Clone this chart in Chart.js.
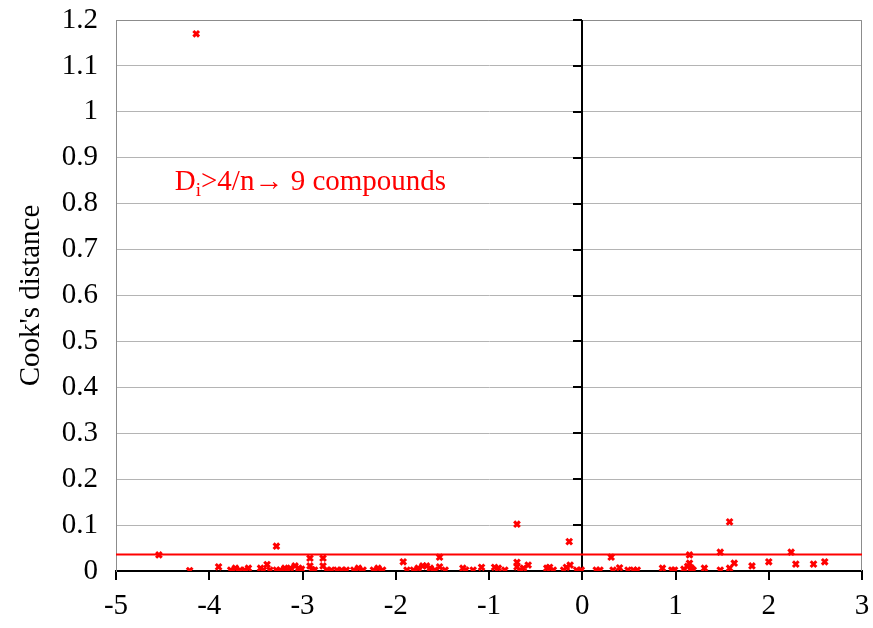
<!DOCTYPE html>
<html>
<head>
<meta charset="utf-8">
<script src="https://cdn.jsdelivr.net/npm/chart.js@4.4.1/dist/chart.umd.min.js"></script>
<style>
html,body{margin:0;padding:0;background:#fff;}
#wrap{width:873px;height:628px;position:relative;}
</style>
</head>
<body>
<div id="wrap"><canvas id="c" width="873" height="628"></canvas></div>
<script>
// x values and Cook's distance values
const xValues = [-4.14,-4.54,-4.21,-3.90,-3.77,-3.72,-3.67,-3.62,-3.58,-3.45,-3.42,-3.38,-3.35,-3.28,-3.28,-3.24,-3.19,-3.17,-3.13,-3.08,-3.04,-3.01,-2.92,-2.92,-2.90,-2.87,-2.78,-2.78,-2.74,-2.69,-2.63,-2.58,-2.53,-2.45,-2.40,-2.35,-2.24,-2.19,-2.14,-1.92,-1.88,-1.81,-1.76,-1.71,-1.67,-1.63,-1.58,-1.53,-1.53,-1.47,-1.28,-1.25,-1.17,-1.08,-0.94,-0.90,-0.83,-0.70,-0.70,-0.70,-0.67,-0.63,-0.58,-0.38,-0.35,-0.31,-0.20,-0.17,-0.14,-0.13,-0.06,-0.01,0.15,0.19,0.31,0.33,0.40,0.49,0.55,0.59,0.86,0.96,0.99,1.09,1.13,1.15,1.15,1.17,1.19,1.31,1.48,1.48,1.58,1.58,1.63,1.82,2.00,2.24,2.29,2.48,2.60];
const cooksD = [1.17,0.035,0.001,0.009,0.002,0.006,0.002,0.002,0.006,0.006,0.002,0.014,0.002,0.054,0.002,0.002,0.006,0.002,0.006,0.011,0.006,0.004,0.028,0.011,0.003,0.002,0.028,0.011,0.002,0.002,0.002,0.002,0.002,0.002,0.006,0.002,0.002,0.006,0.002,0.020,0.002,0.002,0.006,0.011,0.011,0.006,0.002,0.030,0.009,0.002,0.006,0.002,0.002,0.008,0.008,0.006,0.002,0.102,0.019,0.009,0.002,0.006,0.013,0.006,0.008,0.002,0.002,0.008,0.064,0.013,0.002,0.002,0.002,0.002,0.030,0.002,0.007,0.002,0.002,0.002,0.006,0.002,0.002,0.004,0.010,0.017,0.035,0.006,0.002,0.006,0.002,0.041,0.107,0.006,0.017,0.011,0.020,0.041,0.015,0.015,0.020];
const thresholdX = [-5, 3];
const thresholdY = [0.036, 0.036];
const xTicks = [-5,-4,-3,-2,-1,0,1,2,3];
const yTicks = ['0','0.1','0.2','0.3','0.4','0.5','0.6','0.7','0.8','0.9','1','1.1','1.2'];
const yTitle = "Cook's distance";
const annotation = {x: -4.37, y: 0.847, main: 'D', sub: 'i', rest: '>4/n\u2192 9 compounds'};

const FONT = 'Liberation Serif';
const FS = 29;
const points = xValues.map((x, i) => ({x, y: cooksD[i]}));
const thr = thresholdX.map((x, i) => ({x, y: thresholdY[i]}));

const framePlugin = {
  id: 'frame',
  beforeDatasetsDraw(chart) {
    const {ctx, chartArea: a, scales: {x, y}} = chart;
    ctx.save();
    ctx.strokeStyle = '#8c8c8c';
    ctx.lineWidth = 1;
    ctx.beginPath();
    ctx.moveTo(a.left, a.top + 0.5);
    ctx.lineTo(a.right - 0.5, a.top + 0.5);
    ctx.lineTo(a.right - 0.5, a.bottom);
    ctx.stroke();
    const x0 = Math.round(x.getPixelForValue(0));
    ctx.strokeStyle = '#000';
    ctx.lineWidth = 2;
    ctx.beginPath();
    ctx.moveTo(x0, a.top);
    ctx.lineTo(x0, a.bottom);
    y.ticks.forEach(t => {
      const py = Math.round(y.getPixelForValue(t.value));
      ctx.moveTo(x0, py);
      ctx.lineTo(x0 - 9, py);
    });
    ctx.stroke();
    ctx.restore();
  },
  afterDatasetsDraw(chart) {
    const {ctx, scales: {x, y}} = chart;
    ctx.save();
    ctx.fillStyle = '#ff0000';
    ctx.textBaseline = 'middle';
    let px = x.getPixelForValue(annotation.x);
    const py = y.getPixelForValue(annotation.y);
    ctx.font = FS + 'px "' + FONT + '"';
    ctx.fillText(annotation.main, px, py);
    px += ctx.measureText(annotation.main).width;
    ctx.font = '19px "' + FONT + '"';
    ctx.fillText(annotation.sub, px, py + 9);
    px += ctx.measureText(annotation.sub).width;
    ctx.font = FS + 'px "' + FONT + '"';
    ctx.fillText(annotation.rest, px, py);
    ctx.restore();
  }
};

new Chart(document.getElementById('c'), {
  type: 'scatter',
  data: {
    datasets: [
      {
        data: points,
        pointStyle: 'crossRot',
        radius: 4,
        borderWidth: 3,
        borderColor: '#ff0000',
        backgroundColor: '#ff0000',
        order: 1
      },
      {
        type: 'line',
        data: thr,
        borderColor: '#ff0000',
        borderWidth: 2,
        pointRadius: 0,
        order: 2
      }
    ]
  },
  options: {
    responsive: false,
    animation: false,
    devicePixelRatio: 1,
    layout: {padding: {left: 0, right: 11, top: 20, bottom: 0}},
    plugins: {legend: {display: false}, tooltip: {enabled: false}},
    scales: {
      x: {
        type: 'linear',
        min: -5, max: 3,
        afterBuildTicks(s) { s.ticks = xTicks.map(v => ({value: v})); },
        afterFit(s) { s.height = 57; s.paddingLeft = 0; s.paddingRight = 0; },
        grid: {drawOnChartArea: false, drawTicks: true, tickLength: 9, color: '#000', lineWidth: 2},
        border: {display: true, color: '#000', width: 2},
        ticks: {color: '#000', font: {family: FONT, size: FS}, padding: 9, maxRotation: 0,
                callback: v => String(v)}
      },
      y: {
        type: 'linear',
        min: 0, max: 1.2,
        afterBuildTicks(s) { s.ticks = yTicks.map(t => ({value: parseFloat(t)})); },
        afterFit(s) { s.width = 116; s.paddingTop = 0; s.paddingBottom = 0; },
        grid: {drawTicks: false, color: ctx => ctx.tick && ctx.tick.value === 0 ? 'rgba(0,0,0,0)' : '#b4b4b4', lineWidth: 1, borderDash: [2, 2]},
        border: {display: true, color: '#8c8c8c', width: 1},
        ticks: {color: '#000', font: {family: FONT, size: FS}, padding: 18,
                callback: (v, i) => yTicks[i]},
        title: {display: true, text: yTitle, color: '#000', font: {family: FONT, size: FS}, padding: {top: 14, bottom: 0}}
      }
    }
  },
  plugins: [framePlugin]
});
</script>
</body>
</html>
